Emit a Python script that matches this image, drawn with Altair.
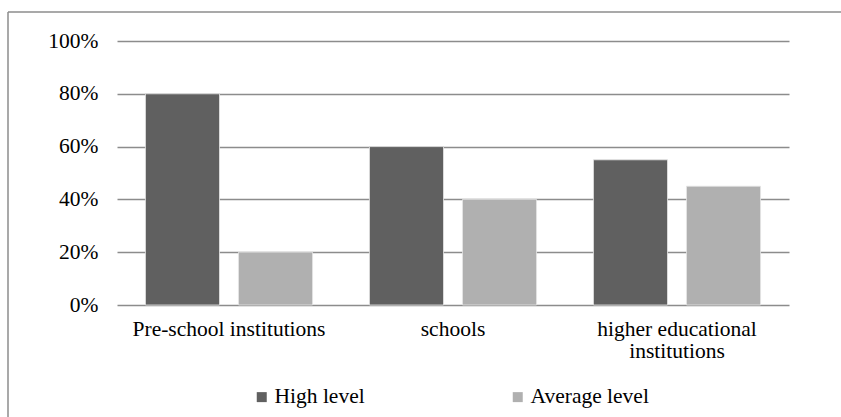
import altair as alt
import pandas as pd

categories = ["Pre-school institutions", "schools", "higher educational institutions"]
series = ["High level", "Average level"]
high_level = [0.80, 0.60, 0.55]
average_level = [0.20, 0.40, 0.45]
colors = ["#606060", "#b0b0b0"]
y_ticks = [0, 0.2, 0.4, 0.6, 0.8, 1.0]

rows = []
for c, h, a in zip(categories, high_level, average_level):
    rows.append({"category": c, "series": series[0], "value": h})
    rows.append({"category": c, "series": series[1], "value": a})
df = pd.DataFrame(rows)

FONT = "'Liberation Serif', 'Times New Roman', Times, serif"
FS = 21.5

bars = alt.Chart(df).mark_bar(stroke="#e6e6e6", strokeWidth=0.8).encode(
    x=alt.X("category:N", sort=categories, title=None,
            scale=alt.Scale(paddingInner=0.254, paddingOuter=0.127),
            axis=alt.Axis(labelAngle=0, labelPadding=13, ticks=False, domain=False, grid=False,
                          labelFontSize=FS, labelFont=FONT, labelColor="black", labelLimit=0,
                          labelLineHeight=22,
                          labelExpr="datum.value == 'higher educational institutions' ? ['higher educational', 'institutions'] : datum.value")),
    xOffset=alt.XOffset("series:N", sort=series,
                        scale=alt.Scale(paddingInner=0.204, paddingOuter=0)),
    y=alt.Y("value:Q", title=None, scale=alt.Scale(domain=[0, 1], nice=False),
            axis=alt.Axis(values=y_ticks, format=".0%", ticks=False, domain=False,
                          labelPadding=19, labelFontSize=FS, labelFont=FONT, labelColor="black",
                          grid=True, gridColor="#8c8c8c", gridWidth=1.5)),
    color=alt.Color("series:N", sort=series,
                    scale=alt.Scale(domain=series, range=colors),
                    legend=alt.Legend(title=None, orient="none", legendX=134, legendY=345,
                                      direction="horizontal", symbolType="square",
                                      symbolSize=100, symbolStrokeWidth=0,
                                      labelFontSize=FS, labelFont=FONT, labelColor="black",
                                      labelOffset=2, columnPadding=142, labelLimit=0)),
)

border_df = pd.DataFrame({"k": [0]})
top_border = alt.Chart(border_df).mark_rule(color="#8c8c8c", strokeWidth=1.5, clip=False).encode(
    x=alt.value(-109), x2=alt.value(724), y=alt.value(-29))
left_border = alt.Chart(border_df).mark_rule(color="#8c8c8c", strokeWidth=1.5, clip=False).encode(
    x=alt.value(-109), y=alt.value(-29), y2=alt.value(376))

chart = alt.layer(bars, top_border, left_border).properties(
    width=672, height=264,
    background="white",
    autosize=alt.AutoSizeParams(type="none"),
    padding={"left": 117, "top": 41, "right": 52, "bottom": 112},
).configure_view(strokeOpacity=0, strokeWidth=0).configure_axisX(grid=False, domain=False)

chart.save("out.html", embed_options={"renderer": "svg", "actions": False})
